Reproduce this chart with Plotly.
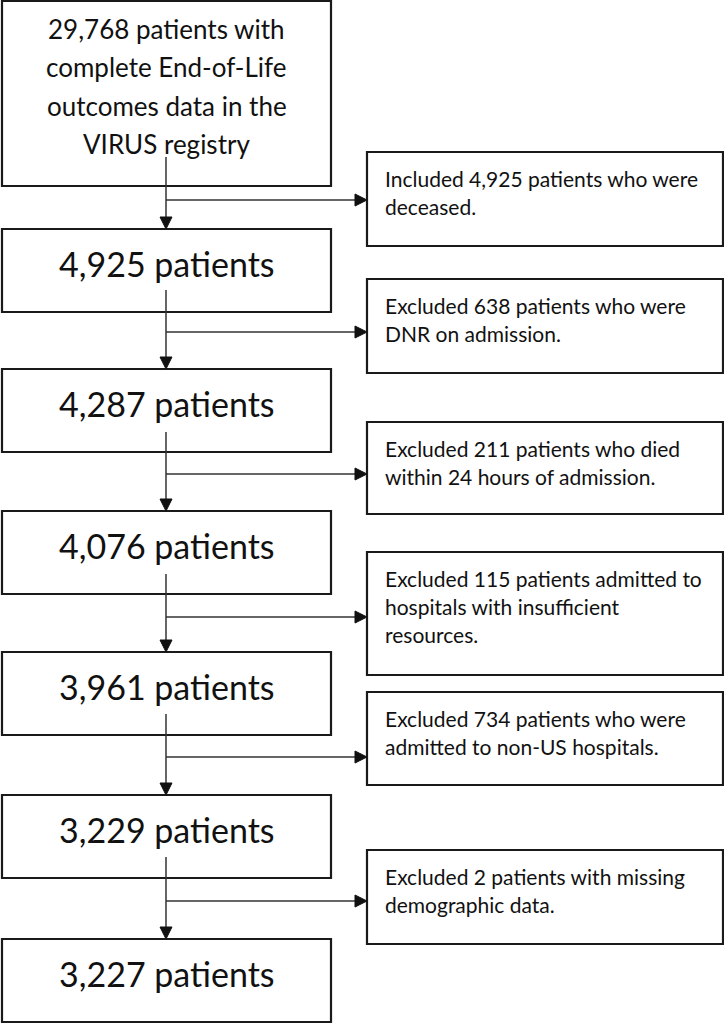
import plotly.graph_objects as go

# ---------------- data (texts) ----------------
main_box_lines = [
    ["29,768 patients with", "complete End-of-Life", "outcomes data in the", "VIRUS registry"],
    ["4,925 patients"],
    ["4,287 patients"],
    ["4,076 patients"],
    ["3,961 patients"],
    ["3,229 patients"],
    ["3,227 patients"],
]
side_box_lines = [
    ["Included 4,925 patients who were", "deceased."],
    ["Excluded 638 patients who were", "DNR on admission."],
    ["Excluded 211 patients who died", "within 24 hours of admission."],
    ["Excluded 115 patients admitted to", "hospitals with insufficient", "resources."],
    ["Excluded 734 patients who were", "admitted to non-US hospitals."],
    ["Excluded 2 patients with missing", "demographic data."],
]

# ---------------- layout geometry ----------------
W, H = 724, 1023
main_x0, main_x1 = 2, 331
side_x0, side_x1 = 367, 723
main_top = [1, 229, 369, 511, 652, 795, 939]
main_bot = [186, 312, 452, 594, 735, 878, 1022]
side_top = [152, 279, 422, 552, 692, 850]
side_bot = [246, 373, 514, 675, 785, 944]
arrow_y = [200, 332, 474, 617, 757, 901]
vline_start = [157, 290, 432, 574, 714, 857]
spine_x = 166

FONT = "Lato"
TXT = "#111111"
BORDER = "#1a1a1a"
LINE = "#333333"

fig = go.Figure()
shapes = []
annotations = []

# main boxes
for i, lines in enumerate(main_box_lines):
    shapes.append(dict(type="rect", xref="x", yref="y", x0=main_x0, x1=main_x1,
                       y0=main_top[i], y1=main_bot[i],
                       line=dict(color=BORDER, width=2.2), fillcolor="white", layer="below"))
    if len(lines) > 1:
        for j, t in enumerate(lines):
            annotations.append(dict(x=(main_x0 + main_x1) / 2, y=main_top[i] + 28 + 38.3 * j,
                                    xref="x", yref="y", text=t, showarrow=False,
                                    font=dict(family=FONT, size=26, color=TXT),
                                    xanchor="center", yanchor="middle"))
    else:
        annotations.append(dict(x=(main_x0 + main_x1) / 2, y=main_top[i] + 34,
                                xref="x", yref="y", text=lines[0], showarrow=False,
                                font=dict(family=FONT, size=34, color=TXT),
                                xanchor="center", yanchor="middle"))

# side boxes
for i, lines in enumerate(side_box_lines):
    shapes.append(dict(type="rect", xref="x", yref="y", x0=side_x0, x1=side_x1,
                       y0=side_top[i], y1=side_bot[i],
                       line=dict(color=BORDER, width=2.2), fillcolor="white", layer="below"))
    for j, t in enumerate(lines):
        annotations.append(dict(x=side_x0 + 16, y=side_top[i] + 26 + 28 * j,
                                xref="x", yref="y", text=t, showarrow=False,
                                font=dict(family=FONT, size=21, color=TXT),
                                xanchor="left", yanchor="middle"))

# arrows
ah_len, ah_half = 12, 6
for i in range(6):
    tip_y = main_top[i + 1]
    shapes.append(dict(type="line", xref="x", yref="y", x0=spine_x, x1=spine_x,
                       y0=vline_start[i], y1=tip_y - ah_len,
                       line=dict(color=LINE, width=1.5)))
    shapes.append(dict(type="path", xref="x", yref="y",
                       path=f"M {spine_x - ah_half} {tip_y - ah_len} L {spine_x + ah_half} {tip_y - ah_len} L {spine_x} {tip_y} Z",
                       fillcolor="#111111", line=dict(color="#111111", width=1)))
    ay = arrow_y[i]
    shapes.append(dict(type="line", xref="x", yref="y", x0=spine_x, x1=side_x0 - ah_len,
                       y0=ay, y1=ay, line=dict(color=LINE, width=1.5)))
    shapes.append(dict(type="path", xref="x", yref="y",
                       path=f"M {side_x0 - ah_len} {ay - ah_half} L {side_x0 - ah_len} {ay + ah_half} L {side_x0} {ay} Z",
                       fillcolor="#111111", line=dict(color="#111111", width=1)))

fig.update_layout(
    width=W, height=H,
    margin=dict(l=0, r=0, t=0, b=0),
    paper_bgcolor="white", plot_bgcolor="white",
    xaxis=dict(range=[0, W], visible=False, fixedrange=True),
    yaxis=dict(range=[H, 0], visible=False, fixedrange=True),
    shapes=shapes, annotations=annotations,
    showlegend=False,
)
fig.write_html("out.html", config={"displayModeBar": False},
               post_script="document.body.style.margin='0';document.body.style.overflow='hidden';")
